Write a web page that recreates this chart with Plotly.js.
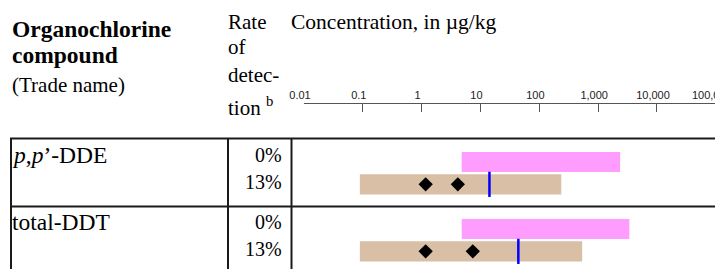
<!DOCTYPE html>
<html>
<head>
<meta charset="utf-8">
<script src="https://cdn.plot.ly/plotly-3.0.1.min.js"></script>
<style>
html,body{margin:0;padding:0;overflow:hidden;background:#fff;width:715px;height:269px;}
#chart{width:740px;height:269px;}
</style>
</head>
<body>
<div id="chart"></div>
<script>
// ---- data ----
const compounds = ['<i>p</i>,<i>p</i>’-DDE', 'total-DDT'];
const rateUpper = ['0%', '0%'];
const rateLower = ['13%', '13%'];
const pinkMin = [4.8, 4.8];
const pinkMax = [2360, 3390];
const tanMin = [0.089, 0.089];
const tanMax = [236, 535];
const diamondA = [1.17, 1.17];
const diamondB = [4.12, 7.4];
const medianVal = [14.2, 44];
const tickVals = [0.01, 0.1, 1, 10, 100, 1000, 10000, 100000];
const tickText = ['0.01', '0.1', '1', '10', '100', '1,000', '10,000', '100,000'];

// ---- layout constants ----
const W = 740, H = 269;
const rows = compounds.map((_, i) => i);
const serif = 'Liberation Serif';
const px2x = p => p / W;
const py2y = p => 1 - p / H;
const barW = 0.3, pinkOff = -0.3167, tanOff = 0.0167, tanCenter = 0.1667;

const traces = [
  {type: 'bar', orientation: 'h', y: rows, base: pinkMin,
   x: pinkMax.map((v, i) => v - pinkMin[i]), width: barW, offset: pinkOff,
   marker: {color: '#ff9cff', line: {width: 0}}, showlegend: false},
  {type: 'bar', orientation: 'h', y: rows, base: tanMin,
   x: tanMax.map((v, i) => v - tanMin[i]), width: barW, offset: tanOff,
   marker: {color: '#d9bfa6', line: {width: 0}}, showlegend: false},
  {type: 'scatter', mode: 'markers', x: diamondA.concat(diamondB),
   y: rows.concat(rows).map(r => r + tanCenter),
   marker: {symbol: 'diamond', size: 11, color: '#000'}, showlegend: false},
  {type: 'scatter', mode: 'markers', x: medianVal, y: rows.map(r => r + tanCenter),
   marker: {symbol: 'line-ns', size: 18, line: {color: '#0000ff', width: 2.5}}, showlegend: false}
];

const annotations = [];
function txt(text, xpx, base, size, anchor, bold) {
  annotations.push({
    text: bold ? '<b>' + text + '</b>' : text,
    xref: 'paper', yref: 'paper', x: px2x(xpx), y: py2y(base - 0.33 * size),
    xanchor: anchor, yanchor: 'middle', showarrow: false, align: anchor,
    font: {family: serif, size: size, color: '#000'}
  });
}
txt('Organochlorine', 10, 37, 23.5, 'left', true);
txt('compound', 10, 63, 23.5, 'left', true);
txt('(Trade name)', 10, 91.5, 21, 'left');
txt('Rate', 226, 29, 21, 'left');
txt('of', 226, 54, 21, 'left');
txt('detec-', 226, 81.5, 21, 'left');
txt('tion <sup>b</sup>', 226, 113, 21, 'left');
txt('Concentration, in µg/kg', 289, 29, 21.5, 'left');

const rowPitch = 67, rowBase = 163, lowerGap = 26.5;
rows.forEach(r => {
  txt(compounds[r], 10, rowBase + r * rowPitch, 23.5, 'left');
  txt(rateUpper[r], 284, rowBase - 1 + r * rowPitch, 20, 'right');
  txt(rateLower[r], 284, rowBase - 1 + lowerGap + r * rowPitch, 20, 'right');
});

const lc = '#1a1a1a';
const shapes = [
  {type: 'line', xref: 'paper', yref: 'paper', x0: px2x(10), x1: 1, y0: py2y(138.5), y1: py2y(138.5), line: {color: lc, width: 2}},
  {type: 'line', xref: 'paper', yref: 'paper', x0: px2x(10), x1: 1, y0: py2y(206.5), y1: py2y(206.5), line: {color: lc, width: 2}},
  {type: 'line', xref: 'paper', yref: 'paper', x0: px2x(11), x1: px2x(11), y0: py2y(138), y1: 0, line: {color: lc, width: 2}},
  {type: 'line', xref: 'paper', yref: 'paper', x0: px2x(228), x1: px2x(228), y0: py2y(138), y1: 0, line: {color: lc, width: 2}},
  {type: 'line', xref: 'paper', yref: 'paper', x0: px2x(291.5), x1: px2x(291.5), y0: py2y(138), y1: 0, line: {color: lc, width: 2}}
];

const decade = 58.83, x0px = 304;
const layout = {
  width: W, height: H,
  margin: {l: 0, r: 0, t: 0, b: 0, pad: 0},
  paper_bgcolor: '#fff', plot_bgcolor: 'rgba(0,0,0,0)',
  showlegend: false,
  xaxis: {
    type: 'log', side: 'top', anchor: 'free', position: py2y(103),
    domain: [px2x(x0px), 1], range: [-2, -2 + (W - x0px) / decade],
    tickmode: 'array', tickvals: tickVals, ticktext: tickText,
    ticks: 'inside', ticklen: 8, tickwidth: 1, tickcolor: '#555',
    showline: true, linecolor: '#555', linewidth: 1,
    showgrid: false, zeroline: false, ticklabelshift: -4,
    tickfont: {family: 'Liberation Sans', size: 11, color: '#222'}
  },
  yaxis: {
    range: [1.43, -2.585], domain: [0, 1], visible: false,
    showgrid: false, zeroline: false, fixedrange: true
  },
  annotations: annotations,
  shapes: shapes
};

Plotly.newPlot('chart', traces, layout, {staticPlot: true, displayModeBar: false});
</script>
</body>
</html>
